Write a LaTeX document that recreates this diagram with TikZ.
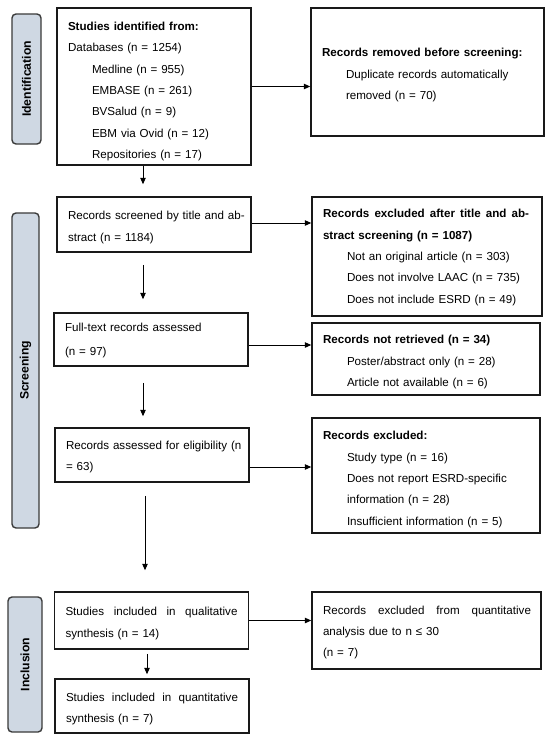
\documentclass[tikz,border=0pt]{standalone}
\usepackage{fontspec}
\setmainfont{Liberation Sans}
\usetikzlibrary{arrows.meta,calc}
\definecolor{sidefill}{HTML}{CFD8E3}
\definecolor{sidedraw}{HTML}{3A3A3A}
\newcommand{\ind}{\hspace*{24pt}}
\newcommand{\tst}[1]{\rule{0pt}{#1pt}}
\newcommand{\jl}[2]{\hbox to #1pt{#2}}
\begin{document}
\begin{tikzpicture}[x=1pt,y=-1pt,
  box/.style={draw=black!90, line width=1.5pt, inner xsep=11pt, inner ysep=0pt, align=left,
    font=\fontsize{11.6}{21.3}\selectfont, anchor=center},
  side/.style={draw=sidedraw, fill=sidefill, line width=1.4pt, rounded corners=4pt, rotate=90,
    font=\fontsize{12.2}{14}\selectfont\bfseries, inner sep=0pt, anchor=center},
  arr/.style={line width=1pt, -{Triangle[length=6.5pt,width=5.5pt]}}]
\useasboundingbox (0,0) rectangle (550,739);
\fill[white] (0,0) rectangle (550,739);

% side labels
\node[side, minimum width=130pt, minimum height=29pt] (s1) at (26.5,79) {Identification};
\node[side, minimum width=315pt, minimum height=27pt] (s2) at (25.5,370.5) {Screening};
\node[side, minimum width=135pt, minimum height=34pt] (s3) at (25,664.5) {Inclusion};

% left column
\node[box, minimum height=157pt, text width=172pt] (b1) at (154,86.5) {%
\tst{18.5}\textbf{Studies identified from:}\\
Databases (n = 1254)\\
\ind Medline (n = 955)\\
\ind EMBASE (n = 261)\\
\ind BVSalud (n = 9)\\
\ind EBM via Ovid (n = 12)\\
\ind Repositories (n = 17)};

\node[box, minimum height=55pt, text width=172pt] (b2) at (154,224.5) {%
\tst{14.5}\mbox{Records screened by title and ab-}\\
stract (n = 1184)};

\node[box, minimum height=53pt, text width=172pt] (b3) at (151,339.5) {%
\tst{10.5}Full-text records assessed\\[2pt]
(n = 97)};

\node[box, minimum height=54pt, text width=172pt] (b4) at (152,455) {%
\tst{12.5}\mbox{Records assessed for eligibility (n}\\
= 63)};

\node[box, minimum height=57pt, text width=172pt] (b5) at (151.5,620.5) {%
\tst{14.5}\jl{172}{Studies\hfill included\hfill in\hfill qualitative}\\
synthesis (n = 14)};

\node[box, minimum height=54pt, text width=172pt] (b6) at (152,706) {%
\tst{14.5}\jl{172}{Studies\hfill included\hfill in\hfill quantitative}\\
synthesis (n = 7)};

% right column
\node[box, minimum height=128pt, text width=211pt] (r1) at (427.5,72) {%
\tst{14.5}\textbf{Records removed before screening:}\\
\ind Duplicate records automatically\\
\ind removed (n = 70)};

\node[box, minimum height=119pt, text width=208pt] (r2) at (427,256.5) {%
\tst{10.5}\jl{206}{\bfseries Records\hfill excluded\hfill after\hfill title\hfill and\hfill ab-}\\
\textbf{stract screening (n = 1087)}\\
\ind Not an original article (n = 303)\\
\ind Does not involve LAAC (n = 735)\\
\ind Does not include ESRD (n = 49)};

\node[box, minimum height=72pt, text width=206pt] (r3) at (426,359) {%
\tst{14.5}\textbf{Records not retrieved (n = 34)}\\
\ind Poster/abstract only (n = 28)\\
\ind Article not available (n = 6)};

\node[box, minimum height=115pt, text width=206pt] (r4) at (426,475.5) {%
\tst{16.5}\textbf{Records excluded:}\\
\ind Study type (n = 16)\\
\ind Does not report ESRD-specific\\
\ind information (n = 28)\\
\ind Insufficient information (n = 5)};

\node[box, minimum height=77pt, text width=207pt] (r5) at (426.5,630.5) {%
\tst{12.5}\jl{208}{Records\hfill excluded\hfill from\hfill quantitative}\\
analysis due to n ≤ 30\\
(n = 7)};

% arrow x positions
\coordinate (ax) at (143,0);
\coordinate (bx) at (145,0);
\coordinate (cx) at (147,0);

% vertical arrows
\draw[arr, shorten >=12pt] (b1.south -| ax) -- (b2.north -| ax);
\draw[arr, shorten <=12pt, shorten >=13pt] (b2.south -| ax) -- (b3.north -| ax);
\draw[arr, shorten <=16pt, shorten >=11pt] (b3.south -| ax) -- (b4.north -| ax);
\draw[arr, shorten <=13pt, shorten >=21pt] (b4.south -| bx) -- (b5.north -| bx);
\draw[arr, shorten <=4pt, shorten >=4pt] (b5.south -| cx) -- (b6.north -| cx);

% horizontal arrows
\draw[arr] (b1.east) -- (b1.east -| r1.west);
\draw[arr] ([yshift=1.5pt]b2.east) -- ([yshift=1.5pt]b2.east -| r2.west);
\draw[arr] ([yshift=-5.5pt]b3.east) -- ([yshift=-5.5pt]b3.east -| r3.west);
\draw[arr] ([yshift=-12pt]b4.east) -- ([yshift=-12pt]b4.east -| r4.west);
\draw[arr] (b5.east) -- (b5.east -| r5.west);
\end{tikzpicture}
\end{document}
